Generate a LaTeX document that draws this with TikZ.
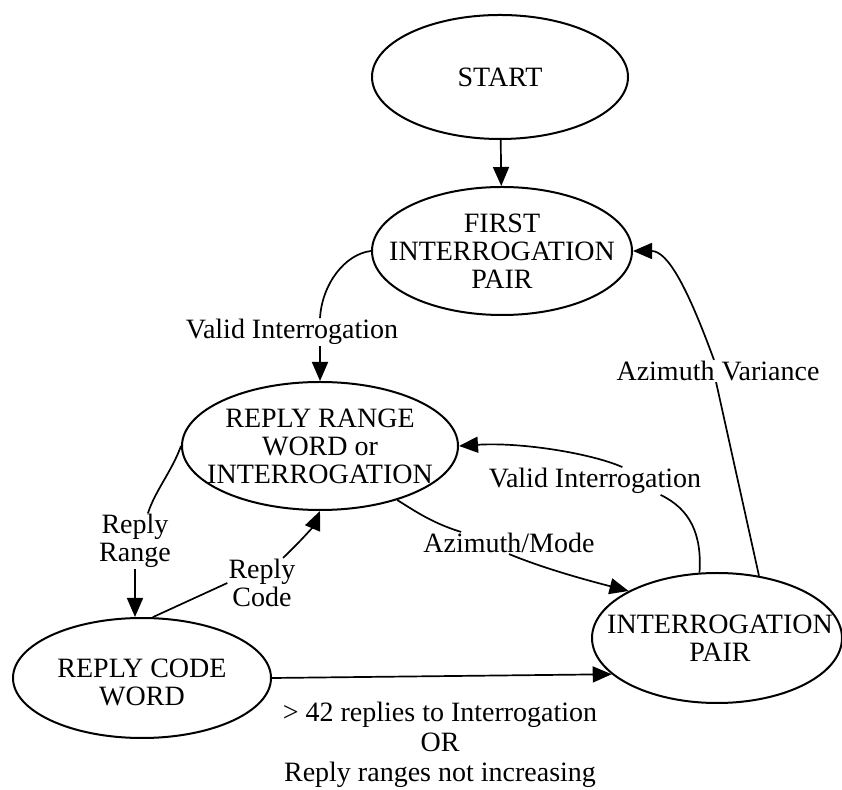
\documentclass[tikz,border=0pt]{standalone}
\usepackage{fontspec}
\setmainfont{Liberation Serif}
\usetikzlibrary{shapes.geometric,arrows.meta}
\newcommand{\statefont}{\fontsize{28}{28}\selectfont}
\newcommand{\condfont}{\fontsize{28}{30}\selectfont}

\begin{document}
\begin{tikzpicture}[x=1pt, y=1pt,
    state/.style={ellipse, draw, line width=2pt, inner sep=0pt},
    statetext/.style={align=center, font=\statefont, inner sep=0pt},
    lbl/.style={align=center, font=\statefont, inner sep=1pt},
    wire/.style={line width=1.7pt},
    arr/.style={wire, -{Triangle[length=19pt,width=16pt]}}]
    \useasboundingbox (0,0) rectangle (842,789);

    % Define nodes
    \node [state, minimum width=256pt, minimum height=124pt, label={[statetext]center:START}] (start) at (500,712) {};
    \node [state, minimum width=260pt, minimum height=128pt, label={[statetext]center:FIRST\\INTERROGATION\\PAIR}] (first) at (502,538) {};
    \node [state, minimum width=276pt, minimum height=128pt, label={[statetext]center:REPLY RANGE\\WORD or\\INTERROGATION}] (rr) at (320,343) {};
    \node [state, minimum width=258pt, minimum height=120pt, label={[statetext, yshift=-4pt]center:REPLY CODE\\WORD}] (rc) at (142,111) {};
    \node [state, minimum width=250pt, minimum height=130pt, label={[statetext, xshift=3pt]center:INTERROGATION\\PAIR}] (ip) at (717,151) {};

    % Edge labels
    \node [lbl] (vi1) at (292,457) {Valid Interrogation};
    \node [lbl] (vi2) at (595,308) {Valid Interrogation};
    \node [lbl] (az) at (509,246) {Azimuth/Mode};
    \node [lbl] (av) at (718,418) {Azimuth Variance};
    \node [lbl] (rrl) at (135,248) {Reply\\Range};
    \node [lbl] (rcl) at (262,206) {Reply\\Code};
    \node [lbl, font=\condfont] (cond) at (440,44) {> 42 replies to Interrogation\\OR\\Reply ranges not increasing};

    % Draw edges
    \draw [arr] (start) -- (first);
    \draw [wire] (first.west) .. controls (345,535) and (322,505) .. (vi1.north -| rr.north);
    \draw [arr] (vi1.south -| rr.north) -- (rr.north);
    \draw [wire] (ip.105) .. controls (702,255) and (690,280) .. (vi2.-12);
    \draw [arr] (vi2.27) .. controls (590,336) and (520,347) .. (rr.east);
    \draw [wire] (rr.-35) .. controls (415,278) and (432,266) .. (az.167);
    \draw [arr] (az.south) .. controls (545,220) and (590,208) .. (ip.152);
    \draw [wire] (ip.56) -- (av.-100);
    \draw [arr] (av.110) .. controls (688,500) and (668,538) .. (first.east);
    \draw [wire] (rr.west) .. controls (172,318) and (155,298) .. (rrl.65);
    \draw [arr] (rrl.south) -- (rrl.south |- rc.north);
    \draw [wire] (rc.80) -- (rcl.west);
    \draw [arr] (rcl.50) .. controls (305,252) and (314,264) .. (rr.south);
    \draw [arr] (rc.east) -- (ip.199);
\end{tikzpicture}
\end{document}
